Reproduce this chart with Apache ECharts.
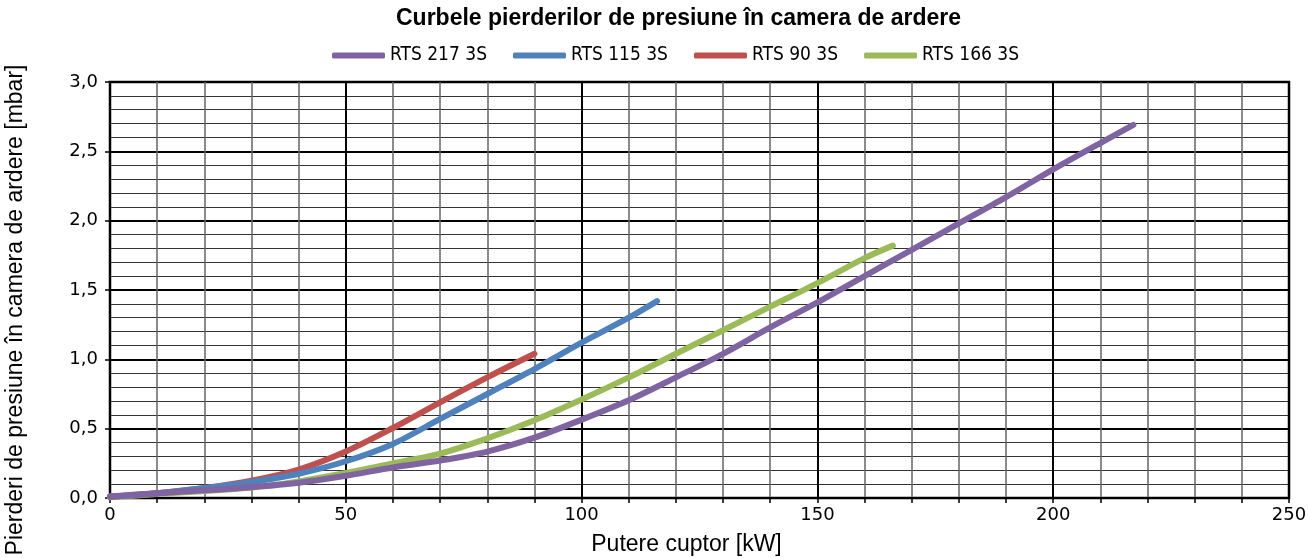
<!DOCTYPE html>
<html>
<head>
<meta charset="utf-8">
<script src="https://cdn.jsdelivr.net/npm/echarts@6/dist/echarts.min.js"></script>
<style>
html,body{margin:0;padding:0;background:#fff;}
#chart{width:1308px;height:558px;}
</style>
</head>
<body>
<div id="chart"></div>
<script>
// ---- data ----
const titleText = 'Curbele pierderilor de presiune în camera de ardere';
const xAxisName = 'Putere cuptor [kW]';
const yAxisName = 'Pierderi de presiune în camera de ardere [mbar]';
const seriesNames = ['RTS 217 3S', 'RTS 115 3S', 'RTS 90 3S', 'RTS 166 3S'];
const seriesColors = ['#8064A2', '#4F81BD', '#C0504D', '#9BBB59'];

const power217 = [0, 10, 20, 30, 40, 50, 60, 70, 80, 90, 100, 110, 120, 130, 140, 150, 160, 170, 180, 190, 200, 210, 217];
const loss217  = [0.01, 0.035, 0.055, 0.078, 0.11, 0.16, 0.22, 0.27, 0.335, 0.435, 0.565, 0.705, 0.87, 1.04, 1.23, 1.41, 1.60, 1.79, 1.98, 2.17, 2.37, 2.56, 2.69];

const power115 = [0, 10, 20, 30, 40, 50, 60, 70, 80, 90, 100, 110, 116];
const loss115  = [0.01, 0.035, 0.07, 0.115, 0.175, 0.265, 0.39, 0.57, 0.75, 0.93, 1.12, 1.30, 1.42];

const power90 = [0, 10, 20, 30, 40, 50, 60, 70, 80, 90];
const loss90  = [0.01, 0.035, 0.072, 0.125, 0.205, 0.335, 0.505, 0.69, 0.87, 1.04];

const power166 = [0, 10, 20, 30, 40, 50, 60, 70, 80, 90, 100, 110, 120, 130, 140, 150, 160, 166];
const loss166  = [0.005, 0.028, 0.05, 0.075, 0.12, 0.18, 0.25, 0.32, 0.43, 0.56, 0.71, 0.87, 1.04, 1.21, 1.38, 1.55, 1.73, 1.82];

const xTicks = [0, 50, 100, 150, 200, 250];
const yTicks = [0, 0.5, 1.0, 1.5, 2.0, 2.5, 3.0];

// ---- build ----
function pairs(xs, ys) { return xs.map((x, i) => [x, ys[i]]); }
const allPower = [power217, power115, power90, power166];
const allLoss = [loss217, loss115, loss90, loss166];
const zOrder = [6, 5, 4, 3];

const chart = echarts.init(document.getElementById('chart'), null, {renderer: 'canvas'});

const series = seriesNames.map((name, i) => ({
  name: name,
  type: 'line',
  data: pairs(allPower[i], allLoss[i]),
  smooth: 0.3,
  showSymbol: false,
  symbol: 'none',
  z: zOrder[i],
  color: seriesColors[i],
  lineStyle: {color: seriesColors[i], width: 6, cap: 'round', join: 'round'},
  emphasis: {disabled: true},
  animation: false
}));

chart.setOption({
  backgroundColor: '#ffffff',
  animation: false,
  title: {
    text: titleText,
    left: 396,
    top: 7,
    padding: 0,
    textStyle: {fontFamily: 'Liberation Sans, Arial, sans-serif', fontWeight: 'bold', fontSize: 23, color: '#000'}
  },
  legend: {
    data: seriesNames,
    left: 332,
    top: 46,
    padding: 0,
    itemWidth: 53,
    itemHeight: 6,
    itemGap: 26,
    icon: 'roundRect',
    textStyle: {fontFamily: "'Liberation Sans Narrow', 'DejaVu Sans Condensed', 'Liberation Sans', sans-serif", fontSize: 19, color: '#000'}
  },
  grid: {
    left: 110, right: 19, top: 82, bottom: 60,
    show: true, borderColor: '#000', borderWidth: 2.5, backgroundColor: '#fff',
    containLabel: false,
    outerBoundsMode: 'none'
  },
  xAxis: {
    type: 'value',
    min: xTicks[0], max: xTicks[xTicks.length - 1], interval: 50,
    name: xAxisName,
    nameLocation: 'middle',
    nameGap: 35,
    nameTextStyle: {fontFamily: 'Liberation Sans, Arial, sans-serif', fontSize: 23, color: '#000', padding: [0, 26, 0, 0]},
    axisLine: {show: true, lineStyle: {color: '#000', width: 2}},
    axisTick: {show: true, length: 5, lineStyle: {color: '#000', width: 1.5}},
    minorTick: {show: true, splitNumber: 5, length: 5, lineStyle: {color: '#000', width: 1.5}},
    axisLabel: {margin: 8, fontFamily: 'DejaVu Sans, sans-serif', fontSize: 18, color: '#000'},
    splitLine: {show: true, lineStyle: {color: '#000', width: 2}},
    minorSplitLine: {show: true, lineStyle: {color: '#666', width: 1.5}}
  },
  yAxis: {
    type: 'value',
    min: yTicks[0], max: yTicks[yTicks.length - 1], interval: 0.5,
    name: yAxisName,
    nameLocation: 'middle',
    nameRotate: 90,
    nameGap: 83,
    nameTextStyle: {fontFamily: 'Liberation Sans, Arial, sans-serif', fontSize: 23, color: '#000', padding: [0, 40, 0, 0]},
    axisLine: {show: true, lineStyle: {color: '#000', width: 2}},
    axisTick: {show: true, length: 5, lineStyle: {color: '#000', width: 1.5}},
    minorTick: {show: false, splitNumber: 5},
    axisLabel: {
      margin: 12, fontFamily: 'DejaVu Sans, sans-serif', fontSize: 18, color: '#000',
      formatter: v => v.toFixed(1).replace('.', ',')
    },
    splitLine: {show: true, lineStyle: {color: '#000', width: 2}},
    minorSplitLine: {show: true, lineStyle: {color: '#333', width: 1.2}}
  },
  series: series
});
</script>
</body>
</html>
